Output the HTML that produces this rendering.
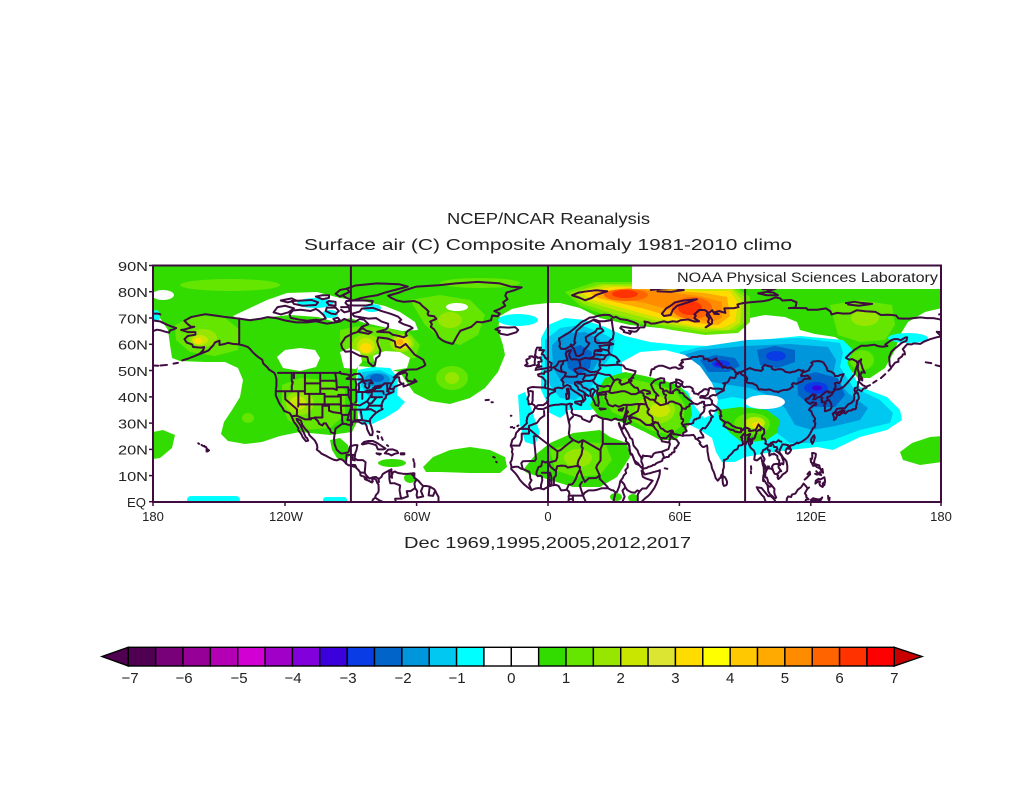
<!DOCTYPE html>
<html><head><meta charset="utf-8"><style>
html,body{margin:0;padding:0;background:#fff;width:1024px;height:792px;overflow:hidden}
svg{display:block}
.cl path{vector-effect:non-scaling-stroke}
text{font-family:"Liberation Sans",sans-serif;fill:#222}
</style></head><body>
<svg width="1024" height="792" viewBox="0 0 1024 792" xmlns="http://www.w3.org/2000/svg">
<defs><clipPath id="c"><rect x="153" y="265" width="788" height="237"/></clipPath></defs>
<rect x="0" y="0" width="1024" height="792" fill="#fff"/>
<g clip-path="url(#c)">
<!-- WEST -->
<path fill="#32dc00" d="M153,265 L548,265 548,303 530,305 512,309 500,316 498,330 503,345 505,355 498,372 485,388 470,398 450,404 430,401 414,393 405,380 400,372 380,368 358,366 356,380 357,400 358,420 352,432 330,435 300,432 280,436 262,442 245,444 228,441 221,434 224,422 232,410 240,397 243,380 238,368 225,362 205,362 180,361 172,358 170,345 168,330 160,318 153,315 Z"/>
<g fill="#64e600">
<ellipse cx="230" cy="285" rx="50" ry="6"/><ellipse cx="480" cy="283" rx="40" ry="5"/>
<path d="M175,325 L195,315 225,318 240,330 238,350 215,356 190,352 176,340 Z"/>
<path d="M410,300 L440,295 470,300 485,315 478,335 460,345 440,338 425,325 Z"/>
<path d="M340,330 L360,326 385,328 410,333 420,345 415,358 395,360 370,362 350,358 340,345 Z"/>
<ellipse cx="452" cy="378" rx="16" ry="12"/>
<path d="M282,385 L300,378 330,380 345,390 345,415 330,428 305,430 288,420 282,405 Z"/>
<ellipse cx="248" cy="418" rx="6" ry="5"/>
</g>
<g fill="#96e600"><ellipse cx="203" cy="338" rx="14" ry="9"/><ellipse cx="366" cy="345" rx="14" ry="11"/><ellipse cx="450" cy="320" rx="12" ry="8"/><ellipse cx="452" cy="378" rx="7" ry="6"/><ellipse cx="300" cy="403" rx="14" ry="12"/><ellipse cx="402" cy="343" rx="12" ry="9"/></g>
<g fill="#c8e600"><ellipse cx="200" cy="340" rx="8" ry="5"/><ellipse cx="366" cy="346" rx="9" ry="8"/><ellipse cx="402" cy="343" rx="9" ry="7"/><ellipse cx="298" cy="403" rx="8" ry="7"/></g>
<g fill="#ffdc00"><ellipse cx="198" cy="341" rx="4" ry="3"/><ellipse cx="366" cy="348" rx="6" ry="5"/><ellipse cx="402" cy="343" rx="6" ry="5"/></g>
<ellipse cx="400" cy="342" rx="3.5" ry="3" fill="#ffaa00"/>
<!-- white holes west -->
<g fill="#fff">
<ellipse cx="163" cy="295" rx="11" ry="5"/>
<path d="M233,316 L250,308 267,300 287,293 317,292 340,298 367,302 385,306 400,312 415,322 418,330 402,331 383,327 365,323 350,318 335,322 318,317 290,315 260,318 240,320 Z"/>
<path d="M277,357 L285,350 300,348 315,350 320,358 316,367 300,371 283,368 Z"/>
<path d="M340,352 L350,348 360,352 362,362 356,369 344,368 Z"/>
<path d="M373,356 L385,351 400,352 410,358 407,368 390,371 376,368 Z"/>
<ellipse cx="457" cy="307" rx="11" ry="4"/>
</g>
<g fill="#00ffff">
<ellipse cx="315" cy="303" rx="18" ry="5"/><ellipse cx="330" cy="314" rx="8" ry="4"/><ellipse cx="372" cy="308" rx="9" ry="4"/>
<ellipse cx="518" cy="320" rx="20" ry="6"/><ellipse cx="156" cy="316" rx="4" ry="6"/>
<path d="M358,370 L372,367 390,368 398,378 397,395 405,402 398,410 385,418 372,424 362,425 358,410 357,390 Z"/>
<rect x="187" y="496" width="53" height="8" rx="4"/><rect x="323" y="497" width="24" height="7" rx="3"/>
<path d="M518,395 L525,392 530,405 535,420 540,432 535,445 525,442 520,425 Z"/>
<path d="M548,398 L560,402 568,412 560,418 548,412 Z"/>
</g>
<path fill="#00c8f0" d="M362,372 L380,370 393,376 394,392 385,398 368,396 361,385 Z"/>
<ellipse cx="377" cy="380" rx="13" ry="7" fill="#0096dc"/>
<ellipse cx="377" cy="378" rx="7" ry="4" fill="#0064c8"/>
<g fill="#32dc00">
<path d="M423,467 L433,457 450,450 470,447 490,450 505,457 507,467 500,473 470,473 440,472 426,472 Z"/>
<ellipse cx="392" cy="463" rx="14" ry="4"/><ellipse cx="410" cy="478" rx="6" ry="5"/>
<path d="M330,440 L340,438 348,445 350,455 345,462 337,458 332,450 Z"/>
<path d="M153,432 L163,430 175,435 172,448 160,458 153,459 Z"/>
</g>
<!-- EAST -->
<path fill="#32dc00" d="M548,265 L632,265 632,288 942,288 942,308 925,312 908,322 900,335 895,350 885,368 870,378 858,378 848,368 846,355 848,345 835,337 815,334 800,330 797,322 785,317 765,315 750,318 745,328 720,332 690,330 660,328 630,325 600,318 580,308 560,303 548,303 Z"/>
<g fill="#64e600"><path d="M830,305 L860,300 892,305 895,325 885,340 860,342 838,335 Z"/><ellipse cx="862" cy="360" rx="12" ry="10"/></g>
<ellipse cx="865" cy="318" rx="14" ry="8" fill="#96e600"/>
<path fill="#64e600" d="M565,292 L595,282 632,282 680,286 735,286 750,297 750,322 738,333 705,335 672,330 640,324 608,316 580,306 Z"/>
<path fill="#96e600" d="M570,293 L600,284 632,284 680,287 733,288 746,298 745,322 735,330 705,332 672,327 640,321 610,313 583,304 Z"/>
<path fill="#c8e600" d="M575,293 L605,285 655,287 700,289 732,289 742,300 740,323 728,330 700,329 670,324 642,317 612,309 588,302 Z"/>
<path fill="#ffdc00" d="M582,293 L612,287 655,288 700,291 730,291 738,303 735,322 722,328 697,327 670,321 645,314 615,306 592,300 Z"/>
<path fill="#ffaa00" d="M590,293 L628,288 665,290 705,293 727,297 730,316 718,325 695,323 672,317 645,309 615,302 598,298 Z"/>
<path fill="#ff8c00" d="M600,292 L630,289 660,291 700,296 722,302 722,318 710,322 690,318 670,310 645,303 615,298 Z"/>
<g fill="#ff6400"><ellipse cx="626" cy="295" rx="22" ry="6"/><ellipse cx="692" cy="308" rx="20" ry="11"/></g>
<g fill="#ff3200"><ellipse cx="625" cy="294" rx="13" ry="4"/><ellipse cx="690" cy="308" rx="12" ry="7"/></g>
<path fill="#00ffff" d="M541,338 L548,325 565,318 585,320 605,327 625,336 650,342 680,345 710,346 735,342 760,340 800,336 843,340 853,350 847,363 860,387 887,397 900,410 902,420 887,430 860,437 833,450 817,447 790,450 767,453 745,457 735,462 722,462 716,452 712,438 700,430 690,425 670,410 640,400 610,405 590,410 565,410 548,405 541,390 Z"/>
<ellipse cx="908" cy="338" rx="20" ry="5" fill="#00ffff"/>
<ellipse cx="731" cy="455" rx="12" ry="5" fill="#00ffff"/>
<path fill="#00c8f0" d="M545,340 L560,328 580,325 600,332 615,340 612,355 600,370 590,390 575,400 560,398 550,385 545,365 Z"/>
<path fill="#0096dc" d="M552,345 L565,333 585,332 600,340 602,355 592,372 578,385 562,383 553,368 Z"/>
<path fill="#0064c8" d="M565,350 L580,345 592,352 590,368 578,375 568,368 Z"/>
<path fill="#00c8f0" d="M680,352 L700,347 747,340 800,338 840,343 843,353 840,367 853,387 880,400 893,413 890,423 860,430 833,440 810,443 790,443 777,433 767,413 750,400 733,397 717,400 700,390 685,375 678,362 Z"/>
<path fill="#0096dc" d="M683,355 L700,350 745,346 790,344 828,347 836,360 833,375 848,393 868,408 860,420 835,426 812,430 795,425 785,408 770,396 750,388 730,385 712,382 695,377 684,367 Z"/>
<g fill="#0064c8"><path d="M700,360 L715,355 735,358 740,366 728,372 708,372 Z"/><path d="M757,350 L775,346 795,350 795,362 778,368 760,365 Z"/><path d="M797,378 L815,372 838,378 845,395 835,407 812,407 798,395 Z"/></g>
<g fill="#0a3ce6"><ellipse cx="721" cy="364" rx="9" ry="4"/><ellipse cx="776" cy="356" rx="10" ry="5"/><ellipse cx="816" cy="388" rx="12" ry="6"/></g>
<g fill="#3c00dc"><ellipse cx="719" cy="364" rx="4" ry="2"/><ellipse cx="817" cy="388" rx="5" ry="2.5"/></g>
<g fill="#fff">
<path d="M622,362 L640,352 665,350 685,355 700,366 712,383 718,400 714,414 704,418 694,405 688,392 675,384 655,380 635,378 622,372 Z"/>
<ellipse cx="765" cy="402" rx="20" ry="7"/>
</g>
<path fill="#32dc00" d="M590,405 L598,390 605,378 625,372 645,376 662,380 680,386 690,398 692,415 686,430 675,440 660,440 645,432 630,425 615,420 600,418 Z"/>
<path fill="#64e600" d="M605,385 L625,378 650,383 675,390 685,405 683,425 670,435 650,430 630,420 612,412 603,398 Z"/>
<ellipse cx="655" cy="410" rx="20" ry="14" fill="#96e600"/>
<ellipse cx="660" cy="410" rx="10" ry="7" fill="#c8e600"/>
<path fill="#32dc00" d="M717,410 L740,407 767,410 780,420 777,433 767,440 743,443 730,433 720,420 Z"/>
<ellipse cx="752" cy="424" rx="18" ry="11" fill="#64e600"/>
<ellipse cx="755" cy="423" rx="10" ry="6" fill="#c8e600"/>
<ellipse cx="757" cy="425" rx="5" ry="3" fill="#ffdc00"/>
<path fill="#32dc00" d="M523,470 L535,455 550,443 573,433 600,430 610,437 627,443 630,457 617,477 600,487 573,487 550,480 527,473 Z"/>
<path fill="#64e600" d="M550,450 L575,442 605,443 612,460 600,475 575,477 555,470 Z"/>
<ellipse cx="578" cy="458" rx="14" ry="9" fill="#96e600"/>
<path fill="#32dc00" d="M900,452 L912,443 930,437 942,436 942,462 920,465 903,460 Z"/>
<g fill="#32dc00"><ellipse cx="616" cy="497" rx="6" ry="4"/><ellipse cx="633" cy="498" rx="5" ry="4"/></g>
<!-- grid lines -->
<g stroke="#3f0c3f" stroke-width="2"><line x1="350.9" y1="265" x2="350.9" y2="502"/><line x1="548" y1="265" x2="548" y2="502"/><line x1="745.1" y1="265" x2="745.1" y2="502"/></g>
<!-- coastlines -->
<g class="cl" transform="matrix(2.19 0 0 -2.63 548 501.7)" fill="none" stroke="#3f0c3f" stroke-width="2" stroke-linejoin="round" stroke-linecap="round">
<path d="M-166,68.8 L-163,70.2 -156.5,71.3 -152,70.8 -148,70.3 -141,69.6 -136,69 -131,69.6 -128,70.2 -124,69.8 -120,68.9 -115,68.2 -110,68.2 -106,68.6 -101,67.7 -97,68.2 -95,68.5 -93,69.5 -90,68.5 -88,68.4 -86,69.5 -84,69.2 -82,67.5 -85,66.5 -87,64.5 -89,64 -92.5,62.5 -94.5,60 -94,58.5 -92.5,57 -90,57.2 -86,55.5 -82.5,55 -82,53 -80,51.5 -79,52 -78.5,54.5 -77,55.5 -76.5,57.5 -77.5,59.5 -78,61 -77.5,62.5 -73,62 -70,61 -69.5,59 -67.5,58.5 -65,60 -64,59 -62,57 -61,56 -59,55 -57,54 -56,52 -57,51.4 -60,50.3 -64,50.2 -66.5,49.6 -68.5,48.8 -70.5,47.2 -69,48.1 -65,49.2 -64.3,48.5 -64.8,47 -64,46 -61,45.5 -61,46.5 -60,45.7 -63,44.7 -66,43.8 -66,45 -67,44.7 -70,43.7 -70.6,42.7 -70.5,41.8 -71.5,41.4 -74,40.6 -74,39.5 -75,38.9 -75.5,38 -76,37 -76,35.3 -75.5,35.2 -77,34.6 -78.5,33.8 -80,32.6 -81.3,31.3 -81.3,30 -80.6,28.5 -80,26.5 -80.3,25.3 -81.2,25.3 -81.8,26.2 -82.6,27.6 -82.8,28.8 -83.6,29.9 -85,29.7 -86.3,30.4 -88,30.5 -89.5,30.3 -89.5,29.2 -91,29.2 -92.5,29.6 -94,29.6 -95.5,28.7 -97,27.8 -97.4,26 -97.7,24 -97.5,22 -96.5,19.8 -95,18.6 -94,18.3 -92,18.6 -91,19 -90.4,21 -88.5,21.5 -87,21.5 -87.5,19.5 -88,18.5 -88.3,16.5 -87,15.8 -84.5,15.8 -83.3,15 -83.6,12 -83.7,11 -83,10 -81.5,8.8 -80,9.3 -78.5,9.4 -77.3,8.6 -76,9.5 -75.5,10.5 -74.5,11 -72.5,11.9 -71.5,12.3 -71.5,11 -71,10.6 -71.8,9.5 -71.2,9.1 -71.5,10.8 -70,11.5 -68.5,10.9 -66,10.6 -64,10.6 -62.5,10.7 -61.6,10.2 -61,9 -60,8.5 -59,7.8 -58,6.8 -57,6 -55,5.9 -53.9,5.7 -52,4.8 -51.5,4.2 -51,3.3 -50,1.8 -50,0.5 -50,-0.5"/>
<path d="M-166,68.8 L-164.5,67.5 -163,66.5 -161.5,66.5 -163.5,66.1 -166,65.5 -167.5,65.3 -164.5,64.5 -161,64.5 -161,63.5 -164.5,63 -166,61.8 -165,60.5 -162.5,59.8 -162,58.8 -158.5,58.6 -157,58.8 -157.5,57.5 -159,56.3 -161.8,55.2 -163.5,54.7 -160,55.8 -157,56.8 -155,57.5 -154,58.5 -153,59.3 -152,60.6 -150,61.2 -150,59.6 -148,59.9 -146,60.4 -144,60 -141,59.8 -139,59.4 -137,58.8 -136,58 -135,57 -133.5,55.8 -132,54.8 -130.5,54 -130,52.5 -128,51 -127.5,50.3 -125,49 -124.5,48.2 -124,46.5 -124,44 -124.3,42.5 -124.3,40.4 -123.8,39.5 -123,38 -122.4,37 -121.9,36.5 -121,35.4 -120.6,34.6 -119,34 -118,33.7 -117.2,32.7 -116.6,31.5 -116,30.3 -115,29.3 -114,28 -114,27.2 -112.7,25.8 -112,24.5 -110.5,23 -109.5,23.2 -110,24.2 -110.6,24.5 -111.4,26 -112.2,27.5 -113,29 -114.5,30.8 -114.8,31.5 -113.8,31.3 -112.8,30.8 -112.2,29.2 -111,27.8 -109.5,26.5 -109,25.4 -108,24.5 -106.5,23.3 -105.5,21.7 -105.3,20.5 -105.6,19.8 -104.3,19 -103.5,18.3 -101.5,17.5 -100,16.8 -98,16 -96.5,15.7 -95,16.2 -94,16 -93,15.3 -92.2,14.5 -91,13.8 -90,13.9 -89,13.4 -87.8,13.2 -87.5,12.8 -86.5,12 -85.7,11.1 -85.7,10.2 -85.2,9.8 -84,9.6 -83.5,8.5 -82.5,8.2 -81.5,7.8 -80.4,7.3 -80,7.7 -80.3,8.4 -79.5,8.9 -78.5,8.3 -78,7.2 -77.4,6.5 -77.3,4.5 -77.5,3.5 -78.6,2.5 -79,1.5 -80,0.8 -80.3,-0.2"/>
<path d="M-141,69.6 L-141,60.3 M-123.3,49 L-95.2,49 -95,49.4 -94.5,48.7 -92,48.4 -89.6,48 M-79,43.3 L-76,44 -74.7,45 -71.5,45 -71,45.3 -70,46.7 -69.2,47.4 -68,47.3 -67.8,45.7 -67,45 M-92,46.7 L-90,46.6 -87.5,46.5 -84.5,46.5 -84.8,47.5 -86,48.7 -88.5,48.5 -89.6,48 -92,46.7 M-87.8,45.8 L-87.5,44.5 -87.8,42.5 -87.3,41.6 -86.5,42 -86.2,43.5 -86.5,44.8 -85,45.8 -84.8,45.8 M-84.5,46 L-83,46 -81,46.2 -80,45 -81.5,45.2 -81.7,43.5 -82.5,43 -83.5,43.8 -83.4,44.9 -84.4,45.5 M-83.5,41.7 L-82,41.5 -80,42 -78.9,42.8 -80.5,42.6 -82.5,42.1 -83.3,42 M-79.8,43.3 L-79,43.2 -77,43.3 -76.3,43.6 -76.5,44.2 -77.5,44 -79,43.8"/>
<path d="M-117,49 L-117,46 -116.9,45.6 -116.5,45.5 -117,44 -117,42 M-124.2,42 L-111,42 M-120,42 L-120,39 -114.6,35.1 -114.7,32.7 M-114,42 L-114,37 -114.1,36.2 M-114,37 L-94.6,37 M-111,45 L-111,41 -104,41 -102,41 -102,40 -95.3,40 M-111,45 L-104,45 -104,43 -98,43 -96.5,42.5 M-104,49 L-104,41 M-109,41 L-109,31.3 M-102,41 L-102,37 M-103,37 L-103,32 -106.6,32 -106.6,31.8 M-103,36.5 L-100,36.5 -100,34.6 -98,34 -96,33.8 -94.5,33.6 -94,33 -94,31 -93.7,29.7 M-104,46 L-96.6,46 M-97.2,49 L-96.6,46 -96.5,43.5 -96.4,42.5 M-96.5,43.5 L-91.2,43.5 M-95.8,40.6 L-91.5,40.6 M-94.6,40 L-94.6,36.5 -94.4,33.6 M-94.6,36.5 L-89.7,36.5 M-94,33 L-91,33 M-91.2,43.5 L-91,40 -89.5,37 -89.6,35 -90.3,35 -91,33 -91.6,31 -89.7,31 -89.6,30.2 M-89.6,35 L-84.3,35 -83,35 -81.7,36.6 -75.8,36.5 M-88.2,35 L-88.4,30.5 M-85.6,35 L-85,32 -85,31 -87.6,31 M-85,31 L-82,30.6 -81.5,30.7 M-83,35 L-81,35.2 -79,34.3 M-87.5,42.5 L-90.6,42.5 M-87.5,41.8 L-87.5,38 -88,37.8 M-84.8,41.7 L-84.8,39.1 M-87.5,41.7 L-82.5,41.7 M-80.5,42 L-80.5,39.7 -77.5,39.7 -75.8,39.7 M-79.8,42 L-75.3,42 -75,41 M-89,37 L-86,36.6 -82.6,38.2 -80.6,40.6 M-82.6,38.2 L-81.7,37.2 -80.5,37.5 -78.5,39.5 M-73.5,45 L-73.3,42 -71.8,41.3 M-71.5,45 L-72.5,42.8 -70.8,42.9 M-72.5,42.8 L-73.5,42 M-117.1,32.5 L-114.7,32.7 -111,31.3 -108.2,31.3 -108.2,31.8 -106.5,31.8 -105,30.6 -104.5,29.6 -103,29 -102.4,29.8 -101.4,29.8 -100.3,28.2 -99.5,27.5 -99.1,26.4 -97.2,25.9 M-116,49 L-116,47 M-111,49 L-111,45"/>
<path d="M-92.2,14.5 L-92,17.8 -91,17.8 -89.2,17.8 -88.2,17.8 M-89.2,17.8 L-89.2,15.9 -88.2,15.7 M-89.2,14 L-88,13.9 -87.5,13 M-85.7,11.1 L-83.7,11 M-83,9.5 L-82.6,8.2 M-77.4,8.6 L-77.2,7.5 M-85,21.9 L-84,22.7 -82,23.1 -80,23.1 -78,22.3 -76,21.2 -74.2,20.2 -75,19.9 -77.7,19.9 -78.5,21.5 -80.5,22 -82,22.3 -84.5,21.8 -85,21.9 M-74.5,18.4 L-73,19.8 -71,19.9 -69,19.3 -68.4,18.5 -70,18.2 -71.5,17.6 -72.8,18.2 -74.5,18.4 M-78.3,18.4 L-76.3,18.2 -76.8,17.9 -78,18.2 -78.3,18.4 M-67.2,18.4 L-65.6,18.4 -65.6,18 -67.2,18 Z M-78,26.7 L-77,26.5 M-77.8,25 L-77.5,24 M-76,24.5 L-75.5,23.5 M-73.5,21.5 L-73,21.2 M-61.5,16.2 L-61.3,15.3 M-61,14.7 L-61,13.2 M-61.9,10.8 L-61,10.8 -61,10.1 -61.9,10.1 M-72.3,11.8 L-72.5,11 -72.4,8.4 -72,7 -70,7 -67.5,6.2 -67.8,4.5 -67.3,2 -66.8,1.2 -69.8,1.1 -69.4,-0.5 M-60,8.5 L-61,7 -60.7,5.2 -62.8,4 -64.5,4 -64,2 -66.8,1.2 M-57,6 L-58,4 -57,2 M-54,5.7 L-54.5,2.5 M-51.5,4.2 L-52.5,2.2 -54.5,2.4 M-57,2 L-59.7,1.5 -60,2.5 -59.7,4 -60.7,5.2 M-78.6,1.4 L-77,0.5 -75.3,-0.1 M-155.5,19.1 L-154.8,19.5 -155.9,20.2 -155.9,19.1 Z M-156.7,20.9 L-156,20.7 M-157.3,21.1 L-156.9,21.2 M-158.2,21.6 L-157.7,21.3 M-159.7,22.2 L-159.3,22 M-164,54.5 L-167,53.7 M-169,52.8 L-171,52.5 M-174,52 L-177,51.8 M-178,51.7 L-180,51.8 M-91.5,-0.3 L-90.8,-0.5"/>
<path d="M-73,78.3 L-68,79.5 -65,80.5 -60,81.8 -50,82.3 -42,83 -32,83.6 -22,83 -17,81.8 -12,81.5 -15,80.5 -19,79.5 -19.5,78.3 -18.5,77 -20.5,75.8 -19.5,74.5 -22,73.3 -24.5,72.5 -22,71.5 -23,70.5 -25.5,70.8 -26,69 -30,68.2 -32.5,68.4 -35,66.5 -38,65.6 -40,65 -41.5,63 -42.5,61.5 -43.5,60 -45,60.3 -47,60.8 -48.5,61.5 -50,62.5 -50.8,64 -52,65.5 -53.5,66.5 -53,67.5 -53.8,68.5 -51,69.5 -52,70.5 -54.5,70.8 -55,71.5 -54.5,72.3 -56,73.5 -57.5,74.5 -58.5,75.5 -61,76.3 -66,76 -69,76.5 -71.5,77.5 -73,78.3 M-24,65.5 L-22,66.4 -18,66.2 -15,66.4 -13.6,65.3 -14.5,64.4 -18.5,63.4 -21.5,63.8 -22.6,64.5 -22,65 -24,65.5"/>
<path d="M-80,73.7 L-76,72.5 -72,71.5 -68.5,70.4 -67,69.2 -68,68.4 -66,67.5 -63,66.7 -61.8,66 -64,65 -65,64 -64.5,63.2 -66,62.5 -68,63 -71,63.5 -72.5,64.4 -75,64.5 -78,64.6 -74,65.5 -73,66.5 -73,67.7 -76,68.5 -78.5,69.8 -82,69.6 -86,70.2 -88.5,70.5 -89.5,71.5 -86,72.3 -85,73.4 -80,73.7 M-86,64.5 L-82,63.8 -80.5,64.5 -83,65 -84.5,66 -86.5,65 -86,64.5 M-118,71.2 L-116.5,72.7 -113,73 -108.5,72.5 -106,73.3 -104.5,72.5 -102.5,71 -101.5,69.7 -104,69 -106,69.2 -110,68.8 -114,69.3 -117.5,69.9 -118,71.2 M-125.3,72 L-123.5,74 -120,74.5 -116,73.5 -118.5,72 -122,71.2 -125.3,72 M-101,73.8 L-97,73.8 -95.5,72.5 -97,71.3 -99,71.5 -101.5,72.5 -101,73.8 M-94.5,74 L-91,74 -90.5,72.5 -93,72 -94.5,73 M-92,76.3 L-88,76.5 -83,76.5 -80,76.3 -80.5,75 -83,74.6 -88,74.6 -91.5,74.7 -92.5,75.6 -92,76.3 M-89,76.5 L-86,77.3 -82,78 -78,78.5 -74.5,79.5 -70,80.5 -64,81.8 -68,82.7 -78,83 -88,82.2 -92,81 -90.5,79.8 -94,78.5 -92,77.5 -89,76.5 M-95,78 L-90.5,79.8 -92,81 -95,80.5 -97,79 -95,78 M-116,75.2 L-112,74.5 -106,74.8 -105,75.8 -108,76.7 -112,76.5 -117,76.3 -116,75.2 M-100,76.3 L-97,76 -97,74.5 -100,74.8 -101,75.8 -100,76.3 M-106,78 L-103,78.5 -100,78.5 -100,77.5 -103,77 -106,78 M-122,76.5 L-117,77.3 -115,76.5 -119,75.8 -122,76.5 M-98,69.5 L-96,70 -95,69 -97,68.5 -98,69.5"/>
<path d="M11,78.5 L14,79.5 17,79.9 22,80.4 27,80 22,78.6 20,77.5 17,76.6 14.5,77.5 11,78.5 M47,80.5 L52,81 58,81.2 62,80.5 56,79.8 50,80 M52,71.5 L54,73.5 56,74.5 58,75.8 62,76.5 68,77 64,75.8 59,74.5 57,73 56,71 53,70.6 52,71.5 M96,79.2 L100,79.8 103,79.5 105,78.5 100,78.5 96,79.2 M98,80.8 L104,81 100,80 M136,75.5 L140,76 143,75.6 148,75.2 142,74.5 137,75 M-180,71.5 L-178,71.5 -177,71.2 M178.6,71.2 L180,71.5"/>
<path d="M5,62 L5.5,60 5.2,59 6,58.1 8,58.1 10,59 10.5,59.8 11,58.8 11.8,58.2 12.5,56.5 12.8,55.5 14.2,55.4 16,56.2 16.5,57.8 18,59 18.9,60.2 17.5,61 17.2,62.5 19,63.5 21.5,64.5 22.5,65.8 24.5,65.8 25.3,64.9 23,63.7 21.5,62.5 21.5,61 22.6,60.3 25,60.4 28,60.5 29.8,59.9 28.3,59.6 26,59.5 23.5,59.2 24,58.3 24.4,57.3 23,57.3 21.5,57.5 21,56.5 21.2,55.4 20,54.8 19,54.4 17,54.7 14.5,53.9 12,54.2 10.9,54 10,54.8 9.6,56 10.5,57.6 9.8,57.5 8.6,57.1 8.1,56.5 8.2,55.5 8.7,54.5 8.8,53.8 7,53.5 5,53.3 4.3,52.2 3.4,51.4 2.5,51.1 1.6,50.9 1.6,50.2 0.2,49.7 -1,49.4 -1.5,49.6 -1.8,48.6 -3,48.8 -4.6,48.4 -4.3,47.8 -2.5,47.3 -2,46.8 -1.2,46 -1.2,44.7 -1.5,43.4 -3,43.4 -5,43.5 -7,43.6 -8.2,43.4 -9.2,43 -8.9,41.5 -8.7,40.5 -9.4,39 -9,38.5 -8.8,37 -7.4,37.2 -6.4,36.8 -5.6,36 -4.5,36.7 -2.2,36.7 -0.7,37.6 0.1,38.7 -0.3,39.5 0.9,41 3.2,41.9 3.1,43 4.6,43.4 6.5,43.1 7.5,43.8 8.8,44.4 10.2,43.9 10.5,42.9 12,42 13.8,41.1 15.6,40.1 16,38.9 15.6,38 16.1,38 17.1,39 16.6,40.8 18.5,40.2 17.4,40.9 15.9,41.9 14,42.6 13.6,43.6 12.3,44.6 12.3,45.3 13.7,45.7 13.6,45 14.9,44.9 15.9,43.5 17.5,43 19.4,41.9 19.4,40.3 20.2,39.6 21,38.3 21.7,36.8 22.9,36.4 23.2,37.8 23,38.9 22.7,40.5 24.2,40.7 26,40.8 26.4,40.1 26.2,39.4 27,38.4 27.3,37.3 28,36.7 29.6,36.2 30.6,36.7 32.5,36.1 34.5,36.8 36,36.8 35.8,35.2 35.5,33.9 35.1,32.9 34.6,31.6 34.3,31.2 33,31.1 32,31.1 31,31.6 30,31.4 29,30.9 27,31.4 25,31.6 23.2,32.2 22,32.9 20.1,32.4 19.9,31.2 19,30.3 17,31 15.7,31.4 15.2,32.3 13.1,32.9 11.5,33.1 10.7,34 11,35 10.3,36.5 11,37.1 9.9,37.3 8.4,36.9 6.3,37.1 4.8,36.9 3,36.8 1,36.5 -1,35.7 -2.2,35.2 -4.6,35.3 -5.9,35.8 -6.9,34 -8.7,33.2 -9.5,32 -9.8,30.5 -9.6,29.9 -11.7,28.2 -13,27.5 -14.5,26.2 -15,24.5 -16.3,23.5 -17,21.3 -16.2,20 -16.5,19 -16.1,18.1 -16.5,16.1 -16.7,15.6 -17.2,14.9 -16.8,13.8 -16.7,13 -16.8,12.4 -15.5,11.3 -14.7,10.6 -13.7,9.5 -13,8.5 -12,7.5 -11.2,6.8 -9.5,5.6 -7.5,4.4 -5.8,5 -4,5.2 -2,4.7 0,5.7 1.8,6.2 3.5,6.4 4.8,6 6,4.3 7.5,4.4 8.5,4.6 9.5,3.9 9.8,3.1 9.4,2 9.5,1 9.3,0 9.2,-0.5"/>
<path d="M5,62 L6,62.5 8,63.5 10,64.5 12,65.8 14,67.3 15.5,68.4 17,69 19,70 21,70.2 23,70.7 25.6,71.1 28,71 30,70 31,70.3 33,69.4 36,69.1 39,68.3 41,67.5 41,66.3 40,66 38,66 35,66.4 33.5,66.6 33,66 34.8,65 34.6,64.5 36.3,64.2 37.5,63.8 38,64.5 37,65 39.5,64.6 40.5,64.8 42,66.3 44,66.3 44.5,67.8 44,68.5 46,68.2 47,67.7 49,67.8 53,68.6 54.5,68.2 57,68.6 59,68.4 60.5,69 64,69.3 67,68.5 69,68.6 66.8,69.7 67.5,70.8 66.8,71.2 69,72.9 71.5,72.9 72.8,72.2 72.5,70.8 73.6,69.6 73,68.4 74,67.5 72,66.3 74.8,67.7 75,69 73.8,70.8 73,71.5 75,72.8 76,71.4 78,71.3 76,72 78,72.5 81,71.8 80.5,73.5 85,73.6 87,74 86.5,75 89,75.5 93,75.9 98,76.2 101,76.7 104,77.7 106,77.3 107,76.5 111,76.7 113.5,75.8 113,73.8 110,73.6 112,73.7 116,73.6 118,73.6 118.5,73 123,73 127,73.5 129,72.3 129.5,71.2 132,71.8 135,71.5 138,71.6 140,72.4 141,72.8 145,72.4 149.5,72.2 152,71 155,71.1 157,71 159,70.8 160,69.7 162,69.6 165,69.6 168,69.9 170,70.1 173,69.8 176,69.8 178.5,69.4 180,69 M-180,68.9 L-177,68.5 -174,67.3 -171.5,66.5 -169.8,66 -171,65.5 -172.5,65.2 -173,64.3 -175,64.7 -177,65.2 -178.5,65.4 -180,65"/>
<path d="M180,65 L178.8,64.5 177.5,64.6 178.8,63.5 179.3,62.8 177.4,62.5 174.5,61.8 172,61 170,60 167,60.2 166,59.8 164,59.9 163.5,59.4 162,58 162.8,57 163,56 162,56 161.7,55.3 160,54.3 160,53.2 158.5,52.9 156.7,51 156,52 155.8,55 156.8,57 158,58 160,59.3 161.5,60.4 163.7,61.2 164,62.5 163.3,62.5 161,61.4 159.8,61.8 158,61.8 156.7,61.4 154,59.8 155,59.2 152.8,58.9 151,59.1 149,59.7 145.5,59.3 143,59.3 140,57.8 138,56.4 136,54.7 137.5,54 139,54.2 141,53.3 141.4,52.2 140.6,50.6 140,48.5 138.5,47 136.8,45.3 135,43.7 133,42.8 131.2,42.6 130.7,42.3 129.7,41 129.7,40.8 128.5,40 127.5,39.8 127.5,39.2 128.3,38.6 129.3,37.3 129.5,36 129,35.1 127.5,34.6 126.5,34.4 126.4,35 126.5,36 126.1,36.7 126.8,37.4 126,37.8 125,37.8 125.3,38.3 124.8,38.7 125.3,39.4 124.3,39.9 122.9,39.6 122.1,39 121.1,38.9 121.6,39.5 121.4,40 122.3,40.5 121,40.9 119.6,39.9 119,39.2 118,39.2 117.5,38.7 118.1,38.1 118.9,37.5 119.7,37.2 120.8,37.8 122.4,37.5 122.5,36.9 121.1,36.6 120.6,36.1 119.7,35.6 119.2,34.9 120.2,34.4 120.6,33.4 121.2,32.5 121.9,31.7 121.9,30.9 121.3,30.7 122.1,29.8 121.7,28.2 121.1,28.1 119.6,25.7 118.7,24.6 117.3,23.6 115.9,22.8 114.2,22.2 113.8,22.5 113.2,22.1 111.8,21.5 110.8,21.4 110.4,20.3 109.9,20.3 109.6,21 109.9,21.4 108.5,21.7 107,21.8 106.6,21 105.9,19.8 105.6,19 105.9,18.5 106.6,17.8 107.4,16.7 108.3,16 108.9,15.3 109.3,13.4 109.2,11.7 108.4,11 107.2,10.4 106.4,9.5 105.2,8.6 104.8,9.2 105.1,9.9 104.3,10.5 103.5,10.6 103.1,11.2 102.6,12.2 101.7,12.6 100.8,12.6 100.9,13.4 100.1,13.4 100,12.3 99.2,10.9 99.2,9.2 99.9,9.2 100.3,8.3 100.5,7.4 101.6,6.7 102.1,6.2 103.4,4.9 103.3,3.7 103.5,2.8 104.2,1.6 103.5,1.2 102.6,2 101.4,2.8 100.6,3.9 100.4,5.3 100.3,6 100.1,6.5 99.7,6.9 98.5,8.4 98.3,7.8 98.2,8.4 98.3,9.7 98.6,10.6 98.5,13.1 98.1,14 97.6,16.1 97.2,16.9 96.5,16.4 95.4,15.7 94.8,15.8 94.2,16 94.3,17 94.6,18.2 94,19.4 93.7,19.7 93,20.1 92.4,20.7 92.1,21.2 91.4,22.8 90.5,22.8 90.3,21.8 89.7,22 89,21.9 88.6,21.5 87,21.3 86.5,20 85,19.5 83.9,18.3 82.2,17 82.2,16.6 81.7,16.3 80.8,15.9 80.3,15.9 80.3,13 79.9,12.1 79.8,10.4 79.3,10.3 78.9,9.6 79.2,9.2 78.3,8.9 77.9,8.3 77.5,8 76.6,8.9 76.1,10.3 75.7,11.3 75.4,11.8 74.9,12.7 74.6,14 74.4,14.6 73.5,15.9 73.1,17.9 72.8,19.2 72.8,20.4 72.6,21.4 71.2,20.8 70.5,20.9 69.2,22.1 69.6,22.5 69.3,22.8 68.2,23.7 67.4,23.9 67.1,24.7 66.4,25.4 64.5,25.2 62.9,25.2 61.5,25.1 59.6,25.4 58.5,25.6 57.4,25.7 56.9,27 56.5,27.1 55.7,26.9 54.7,26.5 53.5,26.8 52.5,27.6 51.5,27.9 50.9,28.8 50.1,30.1 49.6,30 48.9,30.3 48,30 48,29 48.8,28 49.3,27.5 50.2,26.7 50.1,25.9 50.5,25.3 51,24.6 51.6,24.2 52.6,24.2 54,24.1 55.4,25.4 56,26 56.4,26.4 56.4,25.9 56.3,24.9 57.4,23.9 58.7,23.6 59.4,22.7 59.8,22.3 59.3,21.4 58.9,21.1 58.5,20.4 58,20.5 57.8,20.2 57.7,19.7 57.8,19.1 57.7,18.9 56.6,18.6 56.3,18 55.7,17.9 55.3,17.6 55.3,17.2 54.8,17 54.2,17 53.1,16.7 52.4,16.4 52.2,15.9 52.2,15.6 51.2,15.2 49.6,14.7 48.7,14 48,14 47.4,13.6 46.7,13.4 45.9,13.3 45.4,13 44.5,12.7 43.5,12.6 43.2,13.2 43.3,13.8 42.9,14.8 42.6,15.2 42.7,16.4 42.3,17.1 41.7,17.8 41.2,18.7 40.9,19.5 40.2,20.2 39.1,21.3 38.9,22 38.5,23.7 37.5,24.3 37.2,24.9 36.6,26 35.6,27.4 35.1,28.1 34.6,28.1 34.8,29 35,29.5 34.6,29.1 34.3,27.9 33.9,27.6 33.1,28.4 32.4,29.9 32.3,29.8 32.7,28.7 33.3,27.7 34.1,26.1 34.8,25 35.7,23.9 35.5,23.1 36.7,22.2 37.2,21 37.1,19.8 37.5,18.6 38.4,18 39,16.8 39.3,15.9 39.8,15.4 41.2,14.5 41.7,13.9 42.3,13.3 43.1,12.7 43.3,12 42.7,11.7 43.5,11.3 44.1,10.4 44.6,10.4 45.6,10.7 46.6,10.8 47.5,11.1 48.9,11.4 49.7,11.6 50.3,11.7 51.1,12 51.1,11.7 51,10.6 50.6,9.2 50.1,8.1 49.5,6.8 48.6,5.3 47.7,4.2 46.6,2.9 45.6,2.1 44.1,1.1 43.1,0.3 42,-0.9"/>
<path d="M47,44.6 L48.5,46 50,46.6 51.5,47 53,46.8 53.2,45.3 51.3,45.2 51,44.5 51.3,43.2 52.5,42.8 52.7,41.7 52.9,40.9 53.9,40.6 53.5,39.5 53.9,38.9 53.9,37.3 53.2,37 51.3,36.7 50.1,37.4 49,38 48.9,38.8 49.2,39.1 49.4,40.3 49.6,40.5 50.4,40.3 49.6,41 48.6,41.8 47.8,43 47.5,43.6 47,44.6 M58.5,46.5 L60,46.3 61.5,45.5 61,44.3 59.5,43.5 58.5,44 58.5,46.5 M28,41.6 L28.6,43.5 29.5,45 30.5,46.2 31.7,46.6 33.2,46.1 32.6,45.4 33.6,44.5 35.2,44.9 36.5,45.3 38,47 39,47.1 37,46.4 38.2,46 37.4,45.4 38.2,44.5 39.6,43.4 40.9,43.3 41.5,42 41.5,41.5 40,40.9 38,40.9 36,41.7 35,42 33.5,42 32,41.7 29,41.3 28,41.6 M-5.7,50.1 L-3.5,50.4 -1,50.7 1.3,51.2 1.7,52.7 0.3,53.3 -0.4,54.3 -1.3,54.7 -2,55.8 -2.9,56.1 -1.8,57.6 -3.1,57.7 -4,57.6 -3.2,58.6 -5,58.6 -5.6,57.4 -5.7,56.3 -6,55.6 -5,55 -4.7,54.7 -3.3,54.9 -3.6,54.6 -3,54 -2.9,53.4 -3.1,53.3 -4.5,53.1 -4.1,52.3 -5.1,51.8 -4,51.6 -3,51.4 -5.3,51 -5.7,50.1 M-6,52 L-6.1,53.2 -6,53.8 -5.8,54.6 -7.3,55.3 -8.5,55.2 -8.3,54.6 -9.9,54 -9.8,53.2 -9.3,52.5 -10.5,51.8 -9.5,51.5 -8,51.6 -6.5,52 -6,52 M12.4,38 L15.5,38.3 15.1,36.7 12.4,37.6 Z M8.2,41 L9.7,41 9.5,39.2 8.5,39 8.2,41 M8.6,42.9 L9.4,43 9.6,41.4 8.8,41.6 8.6,42.9 M23.5,35.5 L26.3,35.3 24,35 Z M32.3,35 L34.5,35.6 33.8,34.6 32.4,34.7 Z M-17,28.3 L-16.3,28.4 M-15.7,28 L-15.4,28.1 M-14,28.7 L-13.5,29 M-25,17 L-24.3,16.8 M-23.7,15.2 L-23.4,15 M-28.5,38.6 L-27,38.7 M-25.8,37.8 L-25.2,37.8 M-17,32.7 L-16.7,32.7 M53.3,12.7 L54.5,12.5"/>
<path d="M14.2,53.9 L14.6,52.6 14.8,51 12.1,50.3 12.5,49.5 13.8,48.6 13,47.5 10.5,47.5 9.6,47.5 8.5,47.6 7.5,47.6 6.1,46.3 7,45.5 7,44.2 7.5,43.8 M8.2,49 L6.4,49.5 6.2,49.8 5.9,50.8 6.1,51.9 6.8,52.4 7,53.5 M2.5,51.1 L4.2,50 5.8,49.5 8.2,49 7.6,47.6 M-1.8,43.4 L0.7,42.8 3.2,42.4 M-7.4,37.2 L-7,38.5 -7,39.7 -6.9,41.9 -8.2,42.1 M13.8,48.6 L16.9,48.6 17,48 18.8,48 20,48.2 22.1,48.4 22.7,49 22.6,49.6 M14.8,51 L16.4,50.6 18.9,49.5 19.8,49.2 22.6,49.5 24,50.7 23.5,51.6 23.5,52.6 23.8,53.1 23.5,54 22.7,54.3 19,54.4 M23.5,54 L25.5,54.2 26.6,55.6 28.2,56.1 27.6,57.3 27.7,58 28,59.5 M21.1,56 L26.6,55.6 M21.5,57.5 L25,57.9 27.5,57.5 M23.5,52 L26.5,51.8 31.8,52.1 34.4,51.8 35.4,50.6 38.6,49.9 40,49.6 39.7,48.8 38.2,47.2 M31.8,52.1 L31.6,53.2 32.7,53.4 30.9,55.1 28.2,56.1 M22.7,49 L26.5,48.2 28.2,48.2 29.8,46.5 30.1,45.8 M22.1,48.4 L21,46.5 20.2,46.1 21.6,44.8 22.7,44.2 22.4,43.6 22.9,43 22.5,42.4 22.4,41.1 M22.7,44.2 L25.6,43.7 27.3,44.1 28.6,43.7 M22.4,41.1 L24.7,41.6 26.4,41.8 28,42 M26.1,41.8 L26.6,40.9 M13.6,45.5 L15.4,45.5 17,46 19,45.9 20.2,46.1 M19.4,41.9 L19.7,42.7 20.5,43 21.6,42.2 20.6,41.1 20.2,39.6 M29,69.5 L29.5,66.5 30,64 29.6,62 28.3,61.3 27.8,60.5 M28.6,69 L25.8,68.6 23.6,68.6 21,69.3 M23.9,65.8 L23.6,67.9 20.6,69.1 M20.6,69.1 L18,68 16.5,67.5 14.5,66 13,64.9 12.5,63 12,61 12.5,60.5 11.5,59.5 M16,46.5 L17,48"/>
<path d="M-8.7,27.7 L-4.9,25 -1.5,22.8 4.3,19.2 5.7,19.6 7.5,20.9 11.5,23.5 M-8.7,27.7 L-8.7,28.8 -5,30 -3.6,31.6 -1.7,32.7 -1.8,34.5 M-8.7,27.7 L-13.2,27.7 M-8.7,27.3 L-8.7,25.9 -12,25.9 -12,23.5 -13,21.3 -17,21.3 M-4.9,25 L-6.5,24.9 -5.5,16.3 -6,15.5 -11.5,15.4 -12.2,14.6 M11.5,23.5 L10,24.5 9.5,26 9.7,27 9.9,29 9.5,30.3 10,31.3 11.4,32.4 M8.4,36.9 L8.4,34.8 9.5,30.3 M25,31.6 L25,22 M25,22 L36.9,22 M25,22 L24,20 24,19.5 15.9,23.4 14,22.5 11.5,23.5 M24,19.5 L24,15.7 22.5,14 22,12.9 22.9,11.3 23.6,10 M15.9,23.4 L15.3,21 15.5,20.7 15.9,20.4 15.7,19.9 15.3,17.9 13.9,15.7 13.5,14.4 14,13.3 14.6,13.3 14.5,12 14.9,11.6 15.5,9.9 M4.3,19.2 L4.2,16.9 3.6,15.6 1,15 0.2,14.9 M0.2,14.9 L1.1,13.3 2.2,12.6 2.7,12.2 3.6,11.7 M3.6,11.7 L3.6,10 2.7,9 2.7,6.3 M3.6,11.7 L4.2,13.5 6,13.7 8,13.6 9,13 13.1,13.6 14,13.3 M14.5,12 L14,11.3 13.3,10.2 12.7,8.7 11.8,7.4 11,6.6 9.5,6.5 8.5,4.6 M15.5,9.9 L16.8,7.5 18.6,8.9 22,9 23.6,10 M23.6,10 L23.6,8.7 25,7.5 27.2,5.6 27.4,5.1 M14.5,6.2 L15.5,7.5 M14.5,6.2 L16,2.3 16.6,3.3 18.5,4.3 20.9,4.3 22.7,4.6 24.4,5.1 27.4,5.1 M16,2.3 L13.1,2.3 11.3,2.3 9.6,2.3 M11.3,2.3 L11.3,1 9.8,1 M16,2.3 L17.5,-0.5 M11.3,2.3 L11.5,0 M36.9,22 L37.7,17.9 38.4,18 M36.4,14.4 L36.4,13 35.3,12 35.7,10.9 34.6,10 34.1,9 33,7.8 33.6,7.7 34.8,6.6 35.3,5.5 M33,7.8 L32.5,5.8 31.5,3.7 30.8,3.5 29.9,4.3 29,4.4 27.4,5.1 M35.3,5.5 L36.2,4.4 38,3.6 39.6,3.4 40.8,4.3 41.8,3.9 43.1,5 44.9,5 47.8,8 44.5,8.9 43.3,9.5 42.9,10.9 43.1,11.5 M41.6,-1.7 L41,-0.9 41,2.8 41.8,3.9 M35.3,5.5 L34,4.2 35,1.9 34,0 34,-1 M38.4,18 L39.3,16 40,14.5 41.7,13.9 M-16.7,13 L-15,13.3 -13.7,13.3 -12.2,12.5 -11.5,12.4 -11,12.2 M-12.2,14.6 L-11.5,12.4 -8.6,11.4 -8.2,10.1 -8.1,8.8 -7.5,8.2 -8.4,6.9 -8.6,6.5 -7.5,4.4 M0.2,14.9 L-0.5,15.1 -1.1,14.9 -2.6,15.4 -3.1,13.5 -4.3,13.2 -5.2,11.4 -5.3,10.4 -4.7,9.7 -3.5,9.9 -2.8,9.6 -2.6,8.2 -3.2,6.3 -3.2,5.1 M-2.8,11 L0,11 0.9,11 0.4,10.2 0.4,8.7 0.7,8.3 0.5,6.9 1.1,6.1 M1.6,6.8 L1.6,9.1 1,11 M30.8,3.5 L29.6,-1"/>
<path d="M36,36.8 L38,36.8 40,37.1 42.4,37.2 44.3,37 44.8,37.2 44.4,38.3 44,39.4 44.8,39.7 M44.8,39.7 L43.6,40.3 43.6,41.1 42.6,41.6 41.5,41.5 M41.5,41.5 L43.8,42.5 46.4,41.9 46.6,41.2 45.2,41 M44.8,39.7 L45.5,39.5 46.5,38.8 48,38.8 48.8,38.3 48.9,38.9 M44.8,37.2 L45.4,35.9 46.1,35.1 45.6,34.7 45.4,33.9 46.1,33.1 47.3,32.5 47.8,31.7 47.7,30.9 48,30.5 48.6,29.9 M35.7,32.7 L36.8,32.3 38.8,33.4 41,34.4 41.4,35.6 41.4,36.4 42.4,37.2 M35.5,33.9 L36,34.6 36.6,34.2 35.8,33.3 35.7,32.7 35.6,32 35,29.5 M36.8,32.3 L39,32 37,31.5 38,30.5 37.5,30 36.7,29.9 36.1,29.5 35,29.5 M39,32 L42,31.1 44.7,29.2 46.6,29.1 47.5,29 48.4,28.6 M46.6,29.1 L47.7,29.8 48,30 M55.4,22.5 L55.2,22.7 55,22.5 52,23 51.6,24.2 M55.4,22.5 L55.7,22 55,20 52,19 49.1,18.6 48.2,18.2 47.5,17.1 47,16.9 46.7,17.3 46,17.3 45.2,17.4 44,17.4 43.4,17.6 43.1,17.1 43.2,16.7 42.8,16.3 M52,19 L53.1,16.7 M56.3,24.9 L55.9,24.9 55.8,24.3 56,24.1 55.5,23.5 55.5,23 55.2,22.7 M34.3,31.2 L34.9,29.5 M61.2,35.7 L61,34.4 60.5,33.7 60.9,33.5 60.5,33 60.9,32.2 60.9,31.5 61.7,31.4 61.7,30.7 61,29.7 61.4,29.3 62.5,29.3 63.6,29.5 64.1,29.3 64.4,29.6 65,29.5 66.3,29.9 66.4,30.7 66.9,31.3 67.7,31.3 67.8,31.6 68.6,31.7 69,31.9 69.3,31.9 69.3,32.5 69.7,33.1 70.9,34 71.2,34.3 71.5,35.6 71.1,36 71.8,36.5 72.9,36.7 74.1,36.8 74.6,37 75.2,37.1 M61.2,35.7 L60.5,36.8 59.2,37.4 58.4,37.5 57.3,38 56.6,38.1 55.5,38 54.8,37.4 54,37.3 53.9,37.3 M61.2,35.7 L62.2,35.3 63,35.4 63.2,35.9 64.5,36.3 64.7,37.1 65.6,37.3 66.5,37.4 67.8,37.1 68.1,37 68.9,37.3 69.5,37.6 70.1,37.6 70.3,38 71.3,38 71.2,37.1 71.8,36.7 M61.5,25 L61.6,25.2 61.8,26.2 62.6,26.5 63.3,26.8 63.2,27.2 62.8,27.4 62.7,28.3 61.8,28.7 61.4,29.3 M75.2,37.1 L77.8,35.5 76.8,34.7 75.8,34.5 74.2,34.7 73.7,34.3 74.1,33.4 74.5,32.8 75.3,32.3 74.4,31.7 74.4,31 73.5,29.9 72.8,29 71.8,27.9 70.6,28 69.5,26.9 70.3,25.7 70.8,25.2 71,24.4 69.5,24.3 68.8,24.3 68.2,23.7 M77.8,35.5 L78.9,34.3 78.8,33.5 79.2,32.5 78.5,32.6 78.7,31.5 79.7,30.9 81.1,30.2 80.5,29.7 80.1,28.8 81.1,28.4 82,27.9 83.3,27.4 84.7,27.2 85.3,26.7 86,26.6 87.2,26.4 88.1,26.4 88.2,26.8 88.1,27.9 M80.1,28.8 L81.1,30.2 82.3,30.1 83.3,29.5 84.2,28.8 85,28.6 85.8,28.2 87,28 88.1,27.9 M88.1,27.9 L88.8,27.1 89.7,28 91.2,28 92.1,27.5 91.7,27 92,26.8 M92,26.8 L94.6,27.2 95.3,28 96.1,29.4 96.9,28.5 97.3,28.3 97.4,27.9 97.1,27.7 97,27.1 96.4,27.3 95.1,26.6 95.2,26 94.6,25.2 94.6,24.7 94.1,23.9 93.3,24.1 93.3,23 93.1,22.7 93.2,22.3 92.7,22 92.1,21.2 M89.7,26 L88.1,24.5 88.7,24.2 88.5,23.6 88.9,22.9 89,22 M92.7,22 L92.4,23.7 91.9,24.1 91.5,24.1 91.2,23.5 91.7,23 91.2,24.1 91.9,24.9 92.4,25.8 90.5,25.2 89.9,25.3 89.8,26"/>
<path d="M97.3,28.3 L98.2,27.7 98.7,27.5 98.7,26.7 98.7,25.9 97.7,25 97.7,23.9 98.9,24 99.5,22.9 99.2,22.1 100.4,21.6 101.2,21.8 101.2,21.4 101.8,21.2 101.7,22.3 102.2,22.5 102.8,21.7 103.2,20.8 104.4,20.8 104.8,19.9 104.2,19.6 103.9,19.3 105.1,18.7 106.6,17.5 107.3,15.9 107.6,15.2 107.4,14.2 106.5,14.6 106,13.9 105.2,14.3 105.3,13 M106.6,22.8 L105.8,23 105.3,23.4 104.5,22.8 104,22.5 103.2,22.8 102.7,22.7 102.2,22.5 M101.2,21.4 L100.3,20.8 100.1,20.4 99.5,20.2 99,19.8 98.3,19.7 97.8,18.6 97.4,18.4 97.9,17.6 98.5,16.8 98.9,16.2 98.5,15.3 98.2,15.1 98.4,14.6 99.1,13.8 99.2,13.3 99.2,12.8 99.6,11.9 99.2,10.9 M100.1,20.4 L100.5,19.5 101.3,19.5 101,18.4 101.1,17.5 102.1,18.1 103,18 103.2,18.3 104.7,17.4 104.8,16.4 105.6,15.6 105.5,14.7 105.2,14.3 M102.6,12.2 L102.3,13.4 103,14.2 104.3,14.4 105.2,14.3 M105.3,13 L106.5,11.6 105.8,11.6 105.2,10.9 104.3,10.5 M100.1,6.5 L101.2,5.7 101.8,5.8 102.1,6.2 M87.8,49.3 L88.8,49.5 90.7,50.3 92.2,50.8 93.1,50.5 94.8,50 95.8,50 97.3,49.7 98.2,50.4 97.8,51 98.9,52 100.9,51.5 102.1,51.3 102.3,50.5 103.7,50.1 104.6,50.3 105.9,50.4 106.9,50.3 107.9,49.8 108.5,49.3 110.7,49.1 111.6,49.4 112.9,49.5 114.4,50.2 115,50.1 115.5,49.8 116.7,49.9 116.2,49.1 115.5,48.1 115.7,47.7 116.3,47.9 117.3,47.7 118.1,48.1 118.9,47.7 119.8,47 119.7,46.7 118.9,46.8 117.4,46.7 116.7,46.4 116,45.7 114.5,45.3 113.5,44.8 112.4,45 111.9,45.1 111.3,44.5 111.7,44.1 111.8,43.7 111.1,43.4 110.4,42.9 109.2,42.5 107.7,42.5 106.1,42.1 105,41.6 104.5,41.9 103.3,41.9 101.8,42.5 100.8,42.7 99.5,42.5 97.5,42.7 96.3,42.7 95.8,43.3 95.3,44.2 94.7,44.4 93.5,45 92.1,45.1 90.9,45.3 90.6,45.7 91,46.9 90.3,47.7 88.9,48.1 88.2,48.5 87.8,49.3 M46.7,48 L47.3,50.3 48.6,50.5 48.7,51 50.8,51.7 52.3,51.7 54.5,51 55.7,50.6 56.8,51 58.4,51.1 59.6,50.5 61.3,50.8 61.6,51.3 60,52 60.9,52.4 60.7,52.7 61.7,53 61,53.7 61.4,54 65.2,54.4 65.7,55 68.2,55 69.1,55.4 70.9,55.2 71.2,54.1 72.2,54.4 73.5,54 73.4,53.5 74.4,53.6 76.9,54.5 76.5,54.2 77.8,53.4 80,50.9 80.6,51.4 81.9,50.8 83.4,51.1 84,50.6 85.1,50.1 85.5,49.2 86.6,49 87.4,49.2 87.8,49.3 M87.4,49.2 L86.6,48.5 85.8,48.5 85.7,47.5 85.2,47 83.2,47.3 82.5,46 81.9,45.3 80,45 80.9,44.6 80.3,43.4 80.3,42.3 79.1,42.9 77.7,43 76,43 75.6,42.9 74.2,43.3 73.6,43.1 73.5,42.5 71.8,42.8 71.2,42.7 70.4,42.1 69.1,41.4 68.6,40.7 68.1,41 66.7,41.2 66.5,42 66,42 66.1,43 64.9,43.7 63.2,43.7 62,43.5 61.1,44.4 58.5,45.6 55.9,45 55.9,41.3 55,41.6 54.1,42.3 53,42.1 52.5,41.8 M55.9,41.3 L57.1,41.3 56.9,41.8 58.6,42.8 60,42.2 60.1,41.4 61.5,41.3 62.4,40.1 63.5,39.4 64.2,38.9 65.2,38.4 66.5,37.4 M80.3,42.3 L78.5,41.6 76.5,40.4 75.5,40.6 74.8,40.4 73.8,39.9 73.7,39.4 71.8,39.3 70.5,39.6 69.5,39.5 69.6,40.1 70.6,40.2 71.8,40.1 73,40.9 73.5,42.5 M73.7,39.4 L74.9,38.4 74.8,38 75,37.4 M116.2,49.1 L117.9,49.5 119.3,50.1 119.3,50.6 120.2,51.6 120.7,52 120.7,52.5 120.2,52.8 121,53.3 122.2,53.4 123.6,53.5 125.1,53.2 125.9,52.8 126.6,51.8 127,51.4 127.3,50.7 127.7,49.8 129.4,49.4 130.6,48.7 131,47.8 132.5,47.8 133.4,48.2 135,48.5 134.5,47.6 134.1,47.2 133.8,46.1 133.1,45.1 131.9,45.3 131,45 131.3,44.1 131.1,42.9 130.6,42.9 130.6,42.4 M130.6,42.4 L130.8,42.2 129.7,41.6 128.2,41.5 128.1,42 126.9,41.8 125.1,40.6 124.3,39.9 M126.2,37.7 L127.1,38.3 128.3,38.6"/>
<path d="M109.7,2 L111,1.8 111.4,2.7 113,3.1 114,4.5 115.5,5.4 116.7,6.9 117.7,6 118.6,5 119.2,5.4 118.4,4.9 117.9,4.1 117.3,3.2 118,2.3 117.9,1.8 119,0.9 117.8,0.8 117.5,0.1 117.5,-0.8 M109.7,2 L109.1,1.3 109,0.4 109.1,-0.5 M95.3,5.5 L97.5,5.2 98.4,4.3 99.1,3.6 100.6,2.1 101.7,2.1 103.1,1.1 103.8,0.1 103.4,-0.7 M95.3,5.5 L95.9,4.5 96.8,3.5 97.7,2.5 98.6,1.8 99.3,0.2 99.5,-0.5 M120,0.6 L121,1.3 123,0.9 124.5,1 125.2,1.6 124.4,0.4 121.5,0.5 120.4,0.2 119.8,-0.5 M127.9,2.2 L128,1 128.6,1.5 128.4,0.4 127.7,-0.3 M131.3,-0.5 L132.4,-0.4 134.1,-0.9 M120.6,18.5 L121.3,18.5 122.3,18.2 122.2,17.1 121.7,15.9 121.5,15.1 121.7,14.3 122.3,14.2 123.9,13.8 124.2,12.6 123.3,13 122.7,13.2 122,13.8 121.1,13.6 120.6,14.4 120.9,14.6 120.1,15 119.9,16.4 120.3,16 120.7,16.8 120.6,18.5 M126.4,8.4 L126.5,7.8 126.2,6.3 125.8,7.3 125.4,6.8 125.7,6 125.4,5.6 124.2,6.2 123.9,7 124.2,7.6 123.6,7.8 123,7.5 122.1,6.9 122.3,8 123.5,8.7 124.6,8.5 125.5,9 126.2,9.3 126.4,8.4 M123.9,10.3 L124,11.2 124.7,10.1 M122.5,11.6 L123.5,10.5 122.8,10.3 122,10.6 M124.3,12.6 L125,11.3 125.6,11 125.3,12.5 M118.5,10.5 L119.5,11.4 119.7,10.4 117.2,8.4 118.5,9.3 M121.8,24.4 L121.2,22.8 120.7,22 120.2,22.8 120.1,23.6 120.7,24.5 121.5,25.3 121.8,24.4 M108.5,19.4 L109.1,20.3 110.8,20.1 111,19.7 110.6,19 110.3,18.7 109.5,18.2 108.7,18.5 108.5,19.4 M130,33.5 L130.7,31.7 130.5,31 131.4,31.5 131.9,32.6 132,33.1 131.3,33.6 130.7,33.9 130,33.5 M132.6,33 L132.6,34 134.4,34.2 134.7,33.8 133.9,33.5 133.1,32.9 132.6,33 M130.9,34 L132,35.3 133.5,35.5 135.6,35.6 136.6,36.5 137,37 138.4,37.5 139.6,38.5 139.9,39.9 139.7,40.6 140.3,41.2 141.4,41.4 141.9,40 141.9,39.2 141,38.2 141,37.2 140.6,36.3 140.8,35.8 140.3,35.1 139.2,35.2 138.7,34.7 137.2,34.6 136.6,34.2 135.8,33.5 135.1,34 135.5,34.6 134.6,34.8 133,34.2 132.2,33.9 130.9,34 M141.4,43.4 L141.6,45.6 142,45.6 143.9,44.2 144.6,44 145.5,43.3 144,43 143.2,42 141.6,42.7 140.3,41.6 139.9,42.6 140.3,43.3 141.4,43.4 M143.6,50.7 L144.7,49 143.2,49.3 142.6,47.9 143.5,46.8 143.5,46.1 142.7,46.7 142.1,46 141.9,46.8 142,48.9 141.4,50.5 141.6,51.9 141.7,53.3 142.6,53.8 143,54.2 142.7,53 143.3,51.8 143.6,50.7 M145.5,43.8 L147,44.3 M148.5,45.2 L150,46 M152,47 L154,48.5 M155.5,49.8 L156.5,50.6 M179,51.5 L177,51.9 M175,52.7 L172.5,53 M79.9,6.8 L79.7,8.2 79.9,9.8 80.8,9.3 81.3,8.6 81.8,7.5 81.6,6.5 81.2,6.2 80.3,6 79.9,6.8 M92.7,13.5 L92.8,12.3 M92.6,11.6 L92.7,10.8"/>
</g>
<rect x="632" y="264" width="311" height="25" fill="#fff"/>
<text x="677" y="282" font-size="13.5" textLength="261" lengthAdjust="spacingAndGlyphs">NOAA Physical Sciences Laboratory</text>
</g>
<!-- frame -->
<rect x="153" y="265.5" width="788" height="236.5" fill="none" stroke="#3f0c3f" stroke-width="2"/>
<g stroke="#3f0c3f" stroke-width="1.5">
<line x1="149" y1="265.5" x2="153" y2="265.5"/><line x1="149" y1="291.7" x2="153" y2="291.7"/><line x1="149" y1="318" x2="153" y2="318"/><line x1="149" y1="344.3" x2="153" y2="344.3"/><line x1="149" y1="370.5" x2="153" y2="370.5"/><line x1="149" y1="396.9" x2="153" y2="396.9"/><line x1="149" y1="423.1" x2="153" y2="423.1"/><line x1="149" y1="449.4" x2="153" y2="449.4"/><line x1="149" y1="475.6" x2="153" y2="475.6"/><line x1="149" y1="501.7" x2="153" y2="501.7"/>
<line x1="153" y1="502" x2="153" y2="506"/><line x1="285" y1="502" x2="285" y2="506"/><line x1="416.6" y1="502" x2="416.6" y2="506"/><line x1="548" y1="502" x2="548" y2="506"/><line x1="679.4" y1="502" x2="679.4" y2="506"/><line x1="810.8" y1="502" x2="810.8" y2="506"/><line x1="941" y1="502" x2="941" y2="506"/>
</g>
<g font-size="13" text-anchor="end">
<text x="148" y="271" textLength="30" lengthAdjust="spacingAndGlyphs">90N</text>
<text x="148" y="297" textLength="30" lengthAdjust="spacingAndGlyphs">80N</text>
<text x="148" y="323.5" textLength="30" lengthAdjust="spacingAndGlyphs">70N</text>
<text x="148" y="349.5" textLength="30" lengthAdjust="spacingAndGlyphs">60N</text>
<text x="148" y="376" textLength="30" lengthAdjust="spacingAndGlyphs">50N</text>
<text x="148" y="402" textLength="30" lengthAdjust="spacingAndGlyphs">40N</text>
<text x="148" y="428.5" textLength="30" lengthAdjust="spacingAndGlyphs">30N</text>
<text x="148" y="454.5" textLength="30" lengthAdjust="spacingAndGlyphs">20N</text>
<text x="148" y="481" textLength="30" lengthAdjust="spacingAndGlyphs">10N</text>
<text x="146" y="507" textLength="19" lengthAdjust="spacingAndGlyphs">EQ</text>
</g>
<g font-size="13" text-anchor="middle">
<text x="153" y="521">180</text>
<text x="286" y="521">120W</text>
<text x="417" y="521">60W</text>
<text x="548" y="521">0</text>
<text x="680" y="521">60E</text>
<text x="811" y="521">120E</text>
<text x="941" y="521">180</text>
</g>
<text x="447" y="224" font-size="16" textLength="203" lengthAdjust="spacingAndGlyphs">NCEP/NCAR Reanalysis</text>
<text x="304" y="250" font-size="16" textLength="488" lengthAdjust="spacingAndGlyphs">Surface air (C) Composite Anomaly 1981-2010 climo</text>
<text x="404" y="548" font-size="16" textLength="287" lengthAdjust="spacingAndGlyphs">Dec 1969,1995,2005,2012,2017</text>
<!-- colorbar -->
<g stroke="#000" stroke-width="1.4">
<polygon points="102,656.5 128.3,647.3 128.3,666" fill="#500050"/>
<rect x="128.3" y="647.3" width="27.36" height="18.7" fill="#500050"/>
<rect x="155.66" y="647.3" width="27.36" height="18.7" fill="#780078"/>
<rect x="183.01" y="647.3" width="27.36" height="18.7" fill="#960096"/>
<rect x="210.37" y="647.3" width="27.36" height="18.7" fill="#b400b4"/>
<rect x="237.73" y="647.3" width="27.36" height="18.7" fill="#d200d2"/>
<rect x="265.09" y="647.3" width="27.36" height="18.7" fill="#a000c8"/>
<rect x="292.44" y="647.3" width="27.36" height="18.7" fill="#8200dc"/>
<rect x="319.8" y="647.3" width="27.36" height="18.7" fill="#3c00dc"/>
<rect x="347.16" y="647.3" width="27.36" height="18.7" fill="#0a3ce6"/>
<rect x="374.51" y="647.3" width="27.36" height="18.7" fill="#0064c8"/>
<rect x="401.87" y="647.3" width="27.36" height="18.7" fill="#0096dc"/>
<rect x="429.23" y="647.3" width="27.36" height="18.7" fill="#00c8f0"/>
<rect x="456.58" y="647.3" width="27.36" height="18.7" fill="#00ffff"/>
<rect x="483.94" y="647.3" width="27.36" height="18.7" fill="#ffffff"/>
<rect x="511.3" y="647.3" width="27.36" height="18.7" fill="#ffffff"/>
<rect x="538.66" y="647.3" width="27.36" height="18.7" fill="#32dc00"/>
<rect x="566.01" y="647.3" width="27.36" height="18.7" fill="#64e600"/>
<rect x="593.37" y="647.3" width="27.36" height="18.7" fill="#96e600"/>
<rect x="620.73" y="647.3" width="27.36" height="18.7" fill="#c8e600"/>
<rect x="648.08" y="647.3" width="27.36" height="18.7" fill="#dce632"/>
<rect x="675.44" y="647.3" width="27.36" height="18.7" fill="#ffdc00"/>
<rect x="702.8" y="647.3" width="27.36" height="18.7" fill="#ffff00"/>
<rect x="730.16" y="647.3" width="27.36" height="18.7" fill="#ffc800"/>
<rect x="757.51" y="647.3" width="27.36" height="18.7" fill="#ffaa00"/>
<rect x="784.87" y="647.3" width="27.36" height="18.7" fill="#ff8c00"/>
<rect x="812.23" y="647.3" width="27.36" height="18.7" fill="#ff6400"/>
<rect x="839.58" y="647.3" width="27.36" height="18.7" fill="#ff3200"/>
<rect x="866.94" y="647.3" width="27.36" height="18.7" fill="#ff0000"/>
<polygon points="894.3,647.3 922,656.5 894.3,666" fill="#c80000"/>
</g>
<g font-size="15" text-anchor="middle">
<text x="130" y="683">−7</text>
<text x="184" y="683">−6</text>
<text x="239" y="683">−5</text>
<text x="293" y="683">−4</text>
<text x="348" y="683">−3</text>
<text x="403" y="683">−2</text>
<text x="457" y="683">−1</text>
<text x="511.3" y="683">0</text>
<text x="566" y="683">1</text>
<text x="620.7" y="683">2</text>
<text x="675.4" y="683">3</text>
<text x="730.2" y="683">4</text>
<text x="784.9" y="683">5</text>
<text x="839.6" y="683">6</text>
<text x="894.3" y="683">7</text>
</g>
</svg>
</body></html>
